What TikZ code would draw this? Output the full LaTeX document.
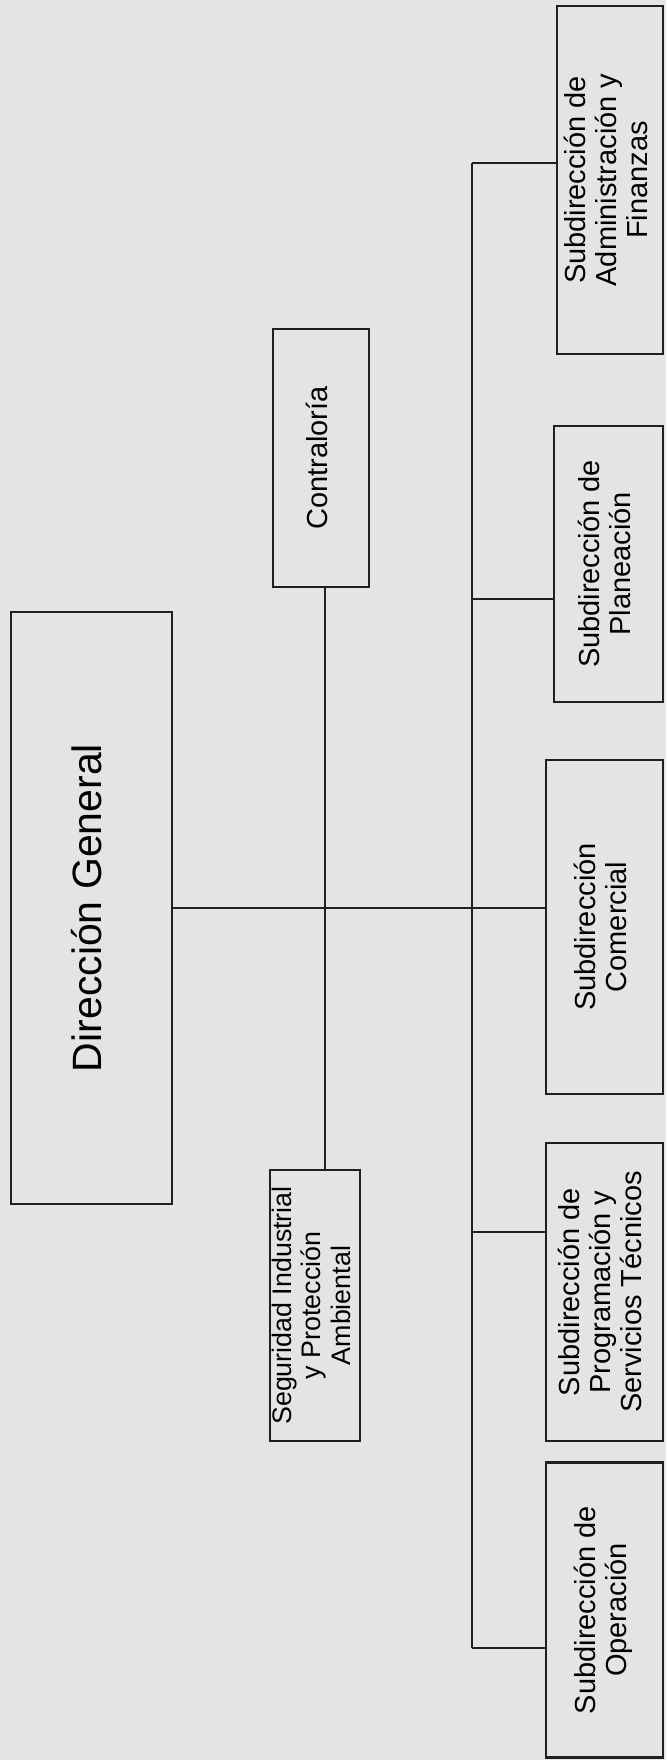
\documentclass[tikz,border=0pt]{standalone}
\usepackage{fontspec}
\setmainfont{Liberation Sans}
\usetikzlibrary{positioning}
\definecolor{paper}{RGB}{228,228,230}
\definecolor{ink}{RGB}{30,32,30}
\newcommand{\vlabel}[1]{\rotatebox{90}{\begin{tabular}{@{}c@{}}#1\end{tabular}}}

\begin{document}
\begin{tikzpicture}[
        x=0.5pt, y=-0.5pt,
        box/.style={rectangle, draw=ink, line width=1.4pt, inner sep=0pt, align=center,
                    font=\fontsize{14.5}{15.6}\selectfont},
        small/.style={font=\fontsize{13.4}{14.8}\selectfont},
        big/.style={font=\fontsize{20.5}{24}\selectfont},
        link/.style={draw=ink, line width=1.2pt}
    ]
        % paper
        \fill[paper] (0,0) rectangle (666,1760);
        \useasboundingbox (0,0) rectangle (666,1760);

        % Boxes
        \node[box, big, minimum width=80.5pt, minimum height=296pt] (dir) at (91.5,908) {\vlabel{Dirección General}};
        \node[box, minimum width=48pt, minimum height=129pt] (contra) at (321,458) {\vlabel{Contraloría}};
        \node[box, small, minimum width=45pt, minimum height=135.5pt] (segur) at (315,1305.5) {\vlabel{Seguridad Industrial\\y Protección\\Ambiental}};
        \node[box, minimum width=53pt, minimum height=174pt] (admin) at (610,180) {\vlabel{Subdirección de\\Administración y\\Finanzas}};
        \node[box, minimum width=54.5pt, minimum height=138pt] (plan) at (608.5,564) {\vlabel{Subdirección de\\Planeación}};
        \node[box, minimum width=58.5pt, minimum height=167pt] (comer) at (604.5,927) {\vlabel{Subdirección\\Comercial}};
        \node[box, minimum width=58.5pt, minimum height=149pt] (prog) at (604.5,1292) {\vlabel{Subdirección de\\Programación y\\Servicios Técnicos}};
        \node[box, minimum width=58.5pt, minimum height=147.5pt] (oper) at (604.5,1610) {\vlabel{Subdirección de\\Operación}};

        % Spine
        \coordinate (sptop) at (472,163);
        \coordinate (spbot) at (472,1648);
        \coordinate (jplan) at (472,599);
        \coordinate (jprog) at (472,1232);
        \draw[link] (sptop) -- (spbot);

        % Lines
        \draw[link] (dir.east) -- (dir.east -| comer.west);
        \draw[link] ([xshift=2pt]contra.south) -- ([xshift=2pt]contra.south |- segur.north);
        \draw[link] (sptop) -- (sptop -| admin.west);
        \draw[link] (jplan) -- (jplan -| plan.west);
        \draw[link] (jprog) -- (jprog -| prog.west);
        \draw[link] (spbot) -- (spbot -| oper.west);

    \end{tikzpicture}
\end{document}
